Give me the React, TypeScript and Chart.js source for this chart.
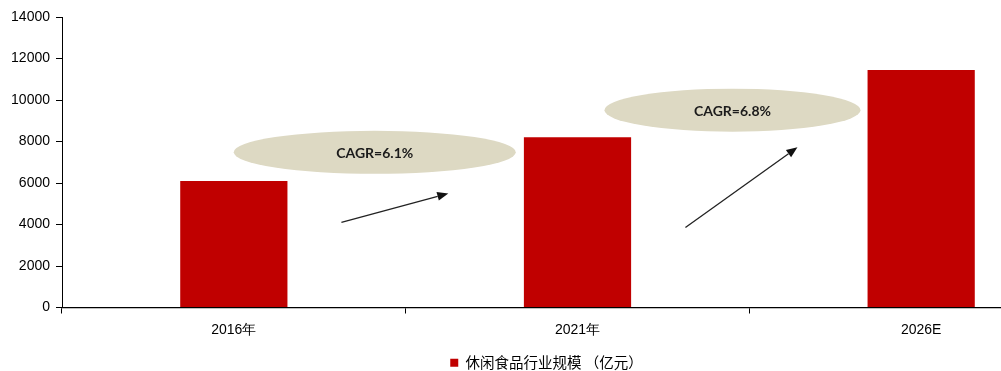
import React, { useEffect, useRef } from "react";
import { Chart, registerables } from "chart.js";

Chart.register(...registerables);

const categories = ["2016年", "2021年", "2026E"];
const marketSize = [6100, 8200, 11450];
const seriesLabel = "休闲食品行业规模 （亿元）";
const yMin = 0;
const yMax = 14000;
const yStep = 2000;
const cagrLabels = ["CAGR=6.1%", "CAGR=6.8%"];
// annotation anchors in data units: [category index, value]
const ellipseCenters = [
  [0.41, 7480],
  [1.451, 9510],
];
const arrowStarts = [
  [0.313, 4100],
  [1.314, 3860],
];
const arrowEnds = [
  [0.624, 5500],
  [1.64, 7720],
];

const annotationPlugin = {
  id: "cagrAnnotations",
  afterDatasetsDraw(chart: any) {
    const ctx = chart.ctx;
    const xs = chart.scales.x;
    const ys = chart.scales.y;
    ctx.save();
    ellipseCenters.forEach((c, i) => {
      const cx = xs.getPixelForValue(c[0]);
      const cy = ys.getPixelForValue(c[1]);
      const rx = i === 0 ? 141 : 128;
      const ry = 21.5;
      ctx.beginPath();
      ctx.ellipse(cx, cy, rx, ry, 0, 0, Math.PI * 2);
      ctx.fillStyle = "#DDD9C3";
      ctx.fill();
      ctx.fillStyle = "#1b1b1b";
      ctx.font = "bold 14px Lato";
      ctx.textAlign = "center";
      ctx.textBaseline = "middle";
      ctx.fillText(cagrLabels[i], cx, cy + 1);
    });
    arrowStarts.forEach((s, i) => {
      const e = arrowEnds[i];
      const x1 = xs.getPixelForValue(s[0]);
      const y1 = ys.getPixelForValue(s[1]);
      const x2 = xs.getPixelForValue(e[0]);
      const y2 = ys.getPixelForValue(e[1]);
      const ang = Math.atan2(y2 - y1, x2 - x1);
      const headLen = 11;
      const headW = 4.5;
      const bx = x2 - headLen * Math.cos(ang);
      const by = y2 - headLen * Math.sin(ang);
      ctx.strokeStyle = "#222";
      ctx.lineWidth = 1.3;
      ctx.beginPath();
      ctx.moveTo(x1, y1);
      ctx.lineTo(bx, by);
      ctx.stroke();
      ctx.fillStyle = "#111";
      ctx.beginPath();
      ctx.moveTo(x2, y2);
      ctx.lineTo(bx + headW * Math.sin(ang), by - headW * Math.cos(ang));
      ctx.lineTo(bx - headW * Math.sin(ang), by + headW * Math.cos(ang));
      ctx.closePath();
      ctx.fill();
    });
    ctx.restore();
  },
};

export default function App() {
  const ref = useRef<HTMLCanvasElement | null>(null);
  useEffect(() => {
    if (!ref.current) return;
    const chart = new Chart(ref.current, {
      type: "bar",
      data: {
        labels: categories,
        datasets: [
          {
            label: seriesLabel,
            data: marketSize,
            backgroundColor: "#C00000",
            borderWidth: 0,
            categoryPercentage: 1,
            barPercentage: 0.312,
          },
        ],
      },
      options: {
        animation: false,
        responsive: true,
        maintainAspectRatio: false,
        layout: { padding: { top: 17, right: 0, left: 0, bottom: 0 } },
        plugins: {
          tooltip: { enabled: false },
          legend: {
            position: "bottom",
            labels: {
              boxWidth: 8,
              boxHeight: 8,
              padding: 6,
              color: "#000",
              font: { family: "'Noto Sans CJK SC'", size: 14.5 },
            },
          },
        },
        scales: {
          x: {
            offset: true,
            afterFit: (s: any) => {
              s.height = 42;
            },
            border: { display: true, color: "#000", width: 1.3 },
            grid: {
              offset: true,
              drawOnChartArea: false,
              drawTicks: true,
              tickLength: 6,
              color: "#000",
            },
            ticks: {
              color: "#000",
              padding: 8,
              font: { family: "'Liberation Sans Narrow', 'Liberation Sans'", size: 14 },
            },
          },
          y: {
            min: yMin,
            max: yMax,
            afterFit: (s: any) => {
              s.width = 62;
            },
            border: { display: true, color: "#000", width: 1 },
            grid: {
              drawOnChartArea: false,
              drawTicks: true,
              tickLength: 6,
              color: "#000",
            },
            ticks: {
              stepSize: yStep,
              color: "#000",
              padding: 6,
              callback: (v: any) => String(v),
              font: { family: "'Liberation Sans', Arial", size: 14 },
            },
          },
        },
      },
      plugins: [annotationPlugin],
    });
    return () => chart.destroy();
  }, []);
  return (
    <div
      style={{
        position: "fixed",
        left: 0,
        top: 0,
        width: 1001,
        height: 371,
        overflow: "hidden",
        background: "#fff",
      }}
    >
      <div style={{ position: "relative", width: 1093, height: 380 }}>
        <canvas ref={ref} />
      </div>
    </div>
  );
}
